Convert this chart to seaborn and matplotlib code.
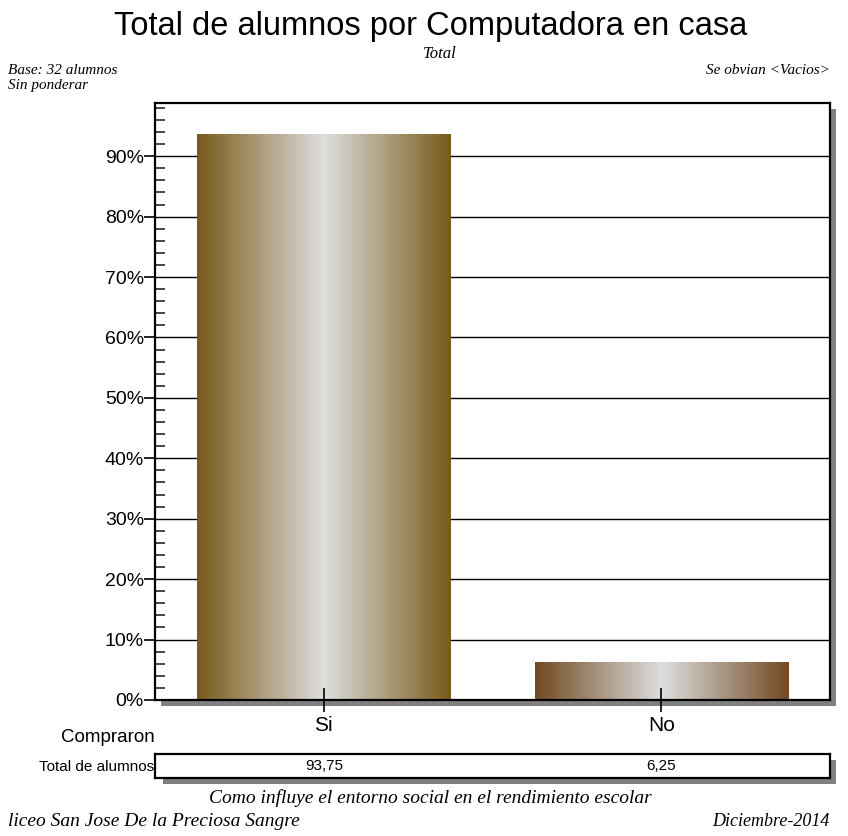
import numpy as np
import matplotlib
matplotlib.use("Agg")
import matplotlib.pyplot as plt
import seaborn as sns
from matplotlib.colors import LinearSegmentedColormap
from matplotlib.patches import Rectangle
from matplotlib.ticker import MultipleLocator, FuncFormatter

categories = ["Si", "No"]
values = [93.75, 6.25]
value_labels = ["93,75", "6,25"]
edge_colors = ["#785b1a", "#714a22"]
center_color = "#dedede"

sns.set_style("white")
plt.rcParams['font.family'] = ['Liberation Sans', 'DejaVu Sans']
plt.rcParams['text.color'] = 'black'
serif = ['Liberation Serif', 'DejaVu Serif']

W, H = 848, 836
fig = plt.figure(figsize=(W / 100, H / 100), dpi=100)


def fx(px):
    return px / W


def fy(py):
    return 1 - py / H


def shadow(l, t, r, b, off=6):
    fig.patches.append(Rectangle((fx(l + off), fy(b + off)), fx(r) - fx(l), fy(t) - fy(b),
                                 transform=fig.transFigure, facecolor='#808080',
                                 edgecolor='none', zorder=-1))


# main axes
L, T, R, B = 155, 103, 830, 700
shadow(L, T, R, B)
ax = fig.add_axes([fx(L), fy(B), fx(R) - fx(L), fy(T) - fy(B)])
ax.set_facecolor('white')

sns.barplot(x=categories, y=values, ax=ax, width=0.75, linewidth=0, saturation=1)

for p, ec in zip(ax.patches, edge_colors):
    x0, y0, w, h = p.get_x(), p.get_y(), p.get_width(), p.get_height()
    cmap = LinearSegmentedColormap.from_list('g', [ec, center_color, ec])
    grad = np.linspace(0, 1, 512).reshape(1, -1)
    im = ax.imshow(grad, extent=[x0, x0 + w, y0, y0 + h], aspect='auto', cmap=cmap,
                   zorder=2, interpolation='bilinear', origin='lower')
    im.set_clip_path(p)
    p.set_facecolor('none')

ax.set_xlim(-0.5, 1.5)
ax.set_ylim(0, 98.8)
ax.set_aspect('auto')
ax.set_xlabel('')
ax.set_ylabel('')

ax.yaxis.set_major_locator(MultipleLocator(10))
ax.yaxis.set_minor_locator(MultipleLocator(2))
ax.yaxis.set_major_formatter(FuncFormatter(lambda v, p: f"{int(round(v))}%"))
ax.tick_params(axis='y', which='major', direction='out', length=8, width=1.2,
               labelsize=14, pad=0, left=True, colors='black')
ax.tick_params(axis='y', which='minor', direction='in', length=7, width=1.2, left=True)
ax.tick_params(axis='x', which='major', direction='inout', length=17, width=1.2,
               labelsize=15, pad=3, bottom=True, colors='black')
ax.set_axisbelow(True)
ax.yaxis.grid(True, which='major', color='black', linewidth=1)
ax.xaxis.grid(False)
for s in ax.spines.values():
    s.set_visible(True)
    s.set_color('black')
    s.set_linewidth(1.6)
for t in ax.xaxis.get_major_ticks():
    t.tick1line.set_zorder(5)
    t.tick1line.set_clip_on(False)
ax.xaxis.set_zorder(5)

# table
tL, tT, tR, tB = 157, 754, 830, 778
shadow(tL, tT, tR, tB)
tax = fig.add_axes([fx(L), fy(tB), fx(R) - fx(L), fy(tT) - fy(tB)])
tax.set_xlim(ax.get_xlim())
tax.set_ylim(0, 1)
tax.set_xticks([])
tax.set_yticks([])
tax.set_facecolor('white')
for s in tax.spines.values():
    s.set_color('black')
    s.set_linewidth(1.6)
for i, lab in enumerate(value_labels):
    tax.text(i, 0.5, lab, ha='center', va='center', fontsize=11)

fig.text(fx(155), fy(738), 'Compraron', ha='right', va='center', fontsize=13.5)
fig.text(fx(154), fy(767), 'Total de alumnos', ha='right', va='center', fontsize=11)

# titles & notes
fig.text(fx(431), fy(27), 'Total de alumnos por Computadora en casa', ha='center', va='center',
         fontsize=23.5)
fig.text(fx(440), fy(54), 'Total', ha='center', va='center', fontsize=12, family=serif,
         style='italic')
fig.text(fx(8), fy(70), 'Base: 32 alumnos', ha='left', va='center', fontsize=11, family=serif,
         style='italic')
fig.text(fx(8), fy(86), 'Sin ponderar', ha='left', va='center', fontsize=11, family=serif,
         style='italic')
fig.text(fx(830), fy(70), 'Se obvian <Vacios>', ha='right', va='center', fontsize=11,
         family=serif, style='italic')
fig.text(fx(430), fy(798), 'Como influye el entorno social en el rendimiento escolar',
         ha='center', va='center', fontsize=14, family=serif, style='italic')
fig.text(fx(8), fy(822), 'liceo San Jose De la Preciosa Sangre', ha='left', va='center',
         fontsize=14, family=serif, style='italic')
fig.text(fx(830), fy(822), 'Diciembre-2014', ha='right', va='center', fontsize=13,
         family=serif, style='italic')

fig.savefig('out.png', dpi=100, facecolor='white')
